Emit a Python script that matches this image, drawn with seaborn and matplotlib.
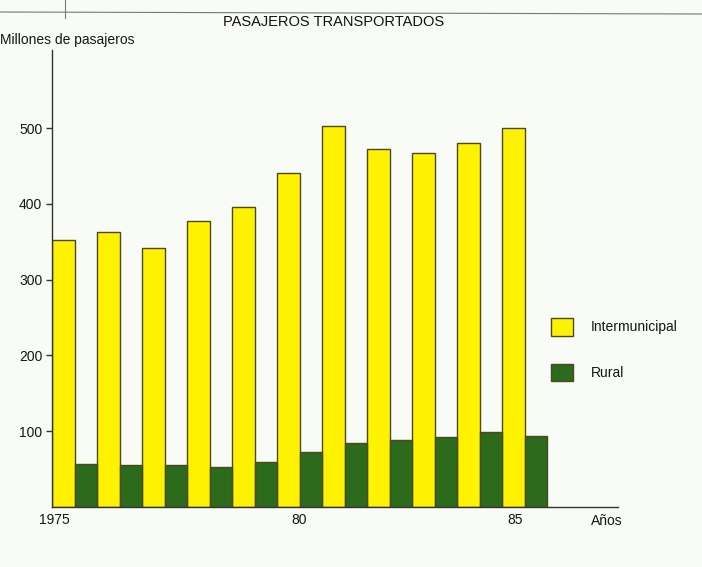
import numpy as np
import pandas as pd
import matplotlib
matplotlib.use("Agg")
import matplotlib.pyplot as plt
from matplotlib.lines import Line2D
import seaborn as sns

# datos (millones de pasajeros)
years = [1975, 1976, 1977, 1978, 1979, 1980, 1981, 1982, 1983, 1984, 1985]
intermunicipal = [352, 363, 342, 377, 396, 441, 503, 472, 467, 480, 500]
rural = [57, 55, 55, 53, 59, 73, 84, 88, 92, 99, 94]
series_names = ["Intermunicipal", "Rural"]
tick_labels = ["1975", "80", "85"]

yellow = "#fff200"
green = "#2c6a1c"
bg = "#f8fbf6"
txt = "#161616"

df = pd.DataFrame({
    "year": [str(y) for y in years] * 2,
    "tipo": [series_names[0]] * len(years) + [series_names[1]] * len(years),
    "valor": intermunicipal + rural,
})

sns.set_style("white")
plt.rcParams["font.family"] = ["Liberation Sans", "DejaVu Sans"]

fig = plt.figure(figsize=(7.02, 5.67), dpi=100)
fig.patch.set_facecolor(bg)
ax = fig.add_axes([52 / 702, 60 / 567, 566 / 702, 457 / 567])
ax.set_facecolor(bg)

sns.barplot(data=df, x="year", y="valor", hue="tipo", palette=[yellow, green],
            width=1.0, dodge=True, edgecolor="#4a4a1e", linewidth=1.0,
            saturation=1, ax=ax)

ax.set_ylim(0, 603)
ax.set_xlim(-0.5, -0.5 + 566 / 45)
ax.set_yticks([100, 200, 300, 400, 500])
ax.set_yticklabels(["100", "200", "300", "400", "500"], fontsize=10, color=txt)
ax.set_xticks([-0.45, 4.99, 9.79])
ax.set_xticklabels(tick_labels, fontsize=10, color=txt)
ax.tick_params(axis="y", direction="out", length=4, width=1, color="#333", pad=3, left=True)
ax.tick_params(axis="x", length=0, pad=4)
ax.set_xlabel("")
ax.set_ylabel("")
sns.despine(ax=ax)
for s in ["left", "bottom"]:
    ax.spines[s].set_color("#333")
    ax.spines[s].set_linewidth(1.0)

ax.legend(loc="upper left", bbox_to_anchor=(544 / 702, 1 - 311 / 567),
          bbox_transform=fig.transFigure, frameon=False, borderpad=0,
          handlelength=1.6, handleheight=1.6, labelspacing=2.0, handletextpad=1.3,
          prop={"size": 10})
for t in ax.get_legend().get_texts():
    t.set_color(txt)

fig.text(334 / 702, 1 - 22 / 567, "PASAJEROS TRANSPORTADOS", ha="center", va="center",
         fontsize=10.5, color="#111")
fig.text(0.0, 1 - 40 / 567, "Millones de pasajeros", ha="left", va="center",
         fontsize=10, color=txt)
fig.text(607 / 702, 1 - 521 / 567, "Años", ha="center", va="center",
         fontsize=10, color=txt)

# lineas del borde de la pagina escaneada
fig.add_artist(Line2D([0, 1], [1 - 12 / 567, 1 - 14 / 567], color="#777", lw=0.8))
fig.add_artist(Line2D([65 / 702, 65 / 702], [1, 1 - 18 / 567], color="#777", lw=0.8))

fig.savefig("out.png", dpi=100, facecolor=bg)
